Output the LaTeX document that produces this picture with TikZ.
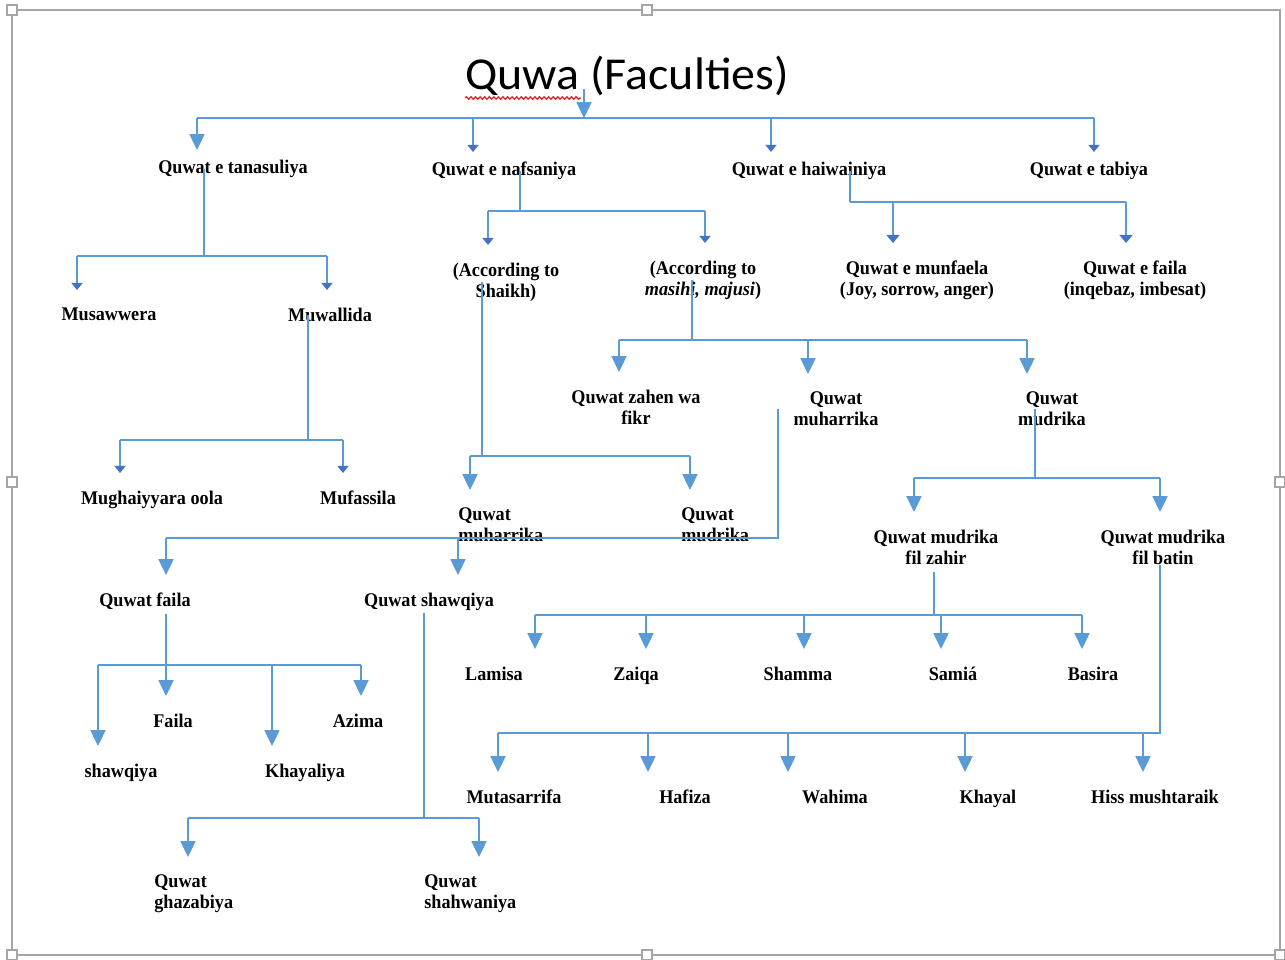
\documentclass[tikz,border=0pt]{standalone}
\usepackage{fontspec}
\setmainfont{Liberation Serif}[FakeStretch=0.94]
\newfontfamily\titlefont{Carlito}[FakeStretch=1.05]
\usepackage{tikz}
\usetikzlibrary{arrows.meta,decorations.pathmorphing}
\definecolor{linkblue}{RGB}{91,155,213}
\definecolor{tipblue}{RGB}{68,114,196}
\definecolor{framegray}{RGB}{165,165,165}
\definecolor{spellred}{RGB}{230,30,30}
\tikzset{
  lbl/.style     = {anchor=north, align=center, inner xsep=2pt, inner ysep=10pt,
                    font=\fontsize{11}{12}\selectfont\bfseries},
  toplbl/.style  = {lbl, inner ysep=5.5pt},
  lftlbl/.style  = {lbl, anchor=north west, align=left, inner xsep=0pt},
  titlelbl/.style= {anchor=base west, inner sep=0pt,
                    font=\titlefont\fontsize{26}{30}\selectfont},
  link/.style    = {draw=linkblue, line width=1.1pt},
  bar/.style     = {link, line width=1.3pt},
  arrL/.style    = {link, -{Triangle[length=9pt, width=8.5pt]}},
  arrM/.style    = {link, -{Triangle[length=4.6pt, width=7.4pt, color=tipblue]}},
  arrS/.style    = {link, -{Triangle[length=4pt, width=6.2pt, color=tipblue]}},
  canvas/.style  = {draw=framegray, line width=0.8pt},
  handle/.style  = {draw=framegray, fill=white, line width=0.6pt},
  squiggle/.style= {draw=spellred, line width=0.7pt, decorate,
                    decoration={snake, amplitude=0.7pt, segment length=2.6pt}},
}

\begin{document}
\begin{tikzpicture}[x=0.02cm, y=-0.02cm]
  \useasboundingbox (0,0) rectangle (1285,960);
  % canvas frame
  \draw[canvas] (12,10) rectangle (1280,955);
  \foreach \hx/\hy in {12/10,647/10,12/482,1280/482,12/955,647/955,1280/955}
    \draw[handle] (\hx,\hy) ++(-5,-5) rectangle ++(10,10);

  % title
  \node[titlelbl] (title) at (465,89) {Quwa (Faculties)};
  \draw[squiggle] (title.base west) ++(0,9) -- ++(116,0);

  % level 1
  \node[toplbl] (tan) at (233,150) {Quwat e tanasuliya};
  \node[toplbl] (naf) at (504,152) {Quwat e nafsaniya};
  \node[toplbl] (hai) at (809,152) {Quwat e haiwainiya};
  \node[toplbl] (tab) at (1089,152) {Quwat e tabiya};

  % level 2
  \node[lbl] (mus) at (109,290) {Musawwera};
  \node[lbl] (muw) at (330,290) {Muwallida};
  \node[lbl] (sha) at (506,245) {(According to\\Shaikh)};
  \node[lbl] (mas) at (703,243) {(According to\\\textit{masihi, majusi})};
  \node[lbl] (mun) at (917,243) {Quwat e munfaela\\(Joy, sorrow, anger)};
  \node[lbl] (fai) at (1135,243) {Quwat e faila\\(inqebaz, imbesat)};

  % level 3
  \node[lbl] (zah)  at (636,372) {Quwat zahen wa\\fikr};
  \node[lbl] (muhM) at (836,374) {Quwat\\muharrika};
  \node[lbl] (mudM) at (1052,374) {Quwat\\mudrika};
  \node[lbl] (mug)  at (152,473) {Mughaiyyara oola};
  \node[lbl] (muf)  at (358,473) {Mufassila};
  \node[lftlbl] (muhS) at (458,490) {Quwat\\muharrika};
  \node[lftlbl] (mudS) at (681,490) {Quwat\\mudrika};
  \node[lbl] (fzh)  at (936,512) {Quwat mudrika\\fil zahir};
  \node[lbl] (fbt)  at (1163,512) {Quwat mudrika\\fil batin};
  \node[lbl] (qfa)  at (145,575) {Quwat faila};
  \node[lbl] (qsh)  at (429,575) {Quwat shawqiya};

  % level 4
  \node[lbl] (lam)  at (494,649) {Lamisa};
  \node[lbl] (zai)  at (636,649) {Zaiqa};
  \node[lbl] (sham) at (798,649) {Shamma};
  \node[lbl] (sami) at (953,649) {Samiá};
  \node[lbl] (bas)  at (1093,649) {Basira};
  \node[lbl] (fla)  at (173,696) {Faila};
  \node[lbl] (azi)  at (358,696) {Azima};
  \node[lbl] (shq)  at (121,746) {shawqiya};
  \node[lbl] (khy)  at (305,746) {Khayaliya};
  \node[lbl] (mut)  at (514,772) {Mutasarrifa};
  \node[lbl] (haf)  at (685,772) {Hafiza};
  \node[lbl] (wah)  at (835,772) {Wahima};
  \node[lbl] (khl)  at (988,772) {Khayal};
  \node[lbl] (hiss) at (1155,772) {Hiss mushtaraik};
  \node[lftlbl] (gha) at (154,857) {Quwat\\ghazabiya};
  \node[lftlbl] (shh) at (424,857) {Quwat\\shahwaniya};

  % title -> level 1
  \coordinate (tJ) at (584,118);
  \draw[link, -{Triangle[length=9pt, width=8.5pt]}] (tJ |- title.base) -- (tJ);
  \coordinate (jtan) at (197,118);
  \draw[arrL] (jtan) -- (jtan |- tan.north);
  \foreach \x/\n in {473/naf,771/hai,1094/tab}{
    \coordinate (j\n) at (\x,118);
    \draw[arrS] (j\n) -- (j\n |- \n.north);
  }
  \draw[bar] (jtan) -- (jtab);

  % tanasuliya
  \coordinate (tanJ) at (204,256);
  \draw[link] (tanJ |- tan.center) -- (tanJ);
  \foreach \x/\n in {77/mus,327/muw}{
    \coordinate (j\n) at (\x,256);
    \draw[arrS] (j\n) -- (j\n |- \n.north);
  }
  \draw[bar] (jmus) -- (jmuw);

  % muwallida
  \coordinate (muwJ) at (308,440);
  \draw[link] (muwJ |- muw.center) -- (muwJ);
  \foreach \x/\n in {120/mug,343/muf}{
    \coordinate (j\n) at (\x,440);
    \draw[arrS] (j\n) -- (j\n |- \n.north);
  }
  \draw[bar] (jmug) -- (jmuf);

  % nafsaniya
  \coordinate (nafJ) at (520,211);
  \draw[link] (nafJ |- naf.center) -- (nafJ);
  \foreach \x/\n in {488/sha,705/mas}{
    \coordinate (j\n) at (\x,211);
    \draw[arrS] (j\n) -- (j\n |- \n.north);
  }
  \draw[bar] (jsha) -- (jmas);

  % haiwainiya
  \coordinate (haiJ) at (850,202);
  \draw[link] (haiJ |- hai.center) -- (haiJ);
  \foreach \x/\n in {893/mun,1126/fai}{
    \coordinate (j\n) at (\x,202);
    \draw[arrM] (j\n) -- (j\n |- \n.north);
  }
  \draw[bar] (haiJ) -- (jfai);

  % according to shaikh
  \coordinate (shaJ) at (482,456);
  \draw[link] (shaJ |- sha.center) -- (shaJ);
  \foreach \x/\n in {470/muhS,690/mudS}{
    \coordinate (j\n) at (\x,456);
    \draw[arrL] (j\n) -- (j\n |- \n.north);
  }
  \draw[bar] (jmuhS) -- (jmudS);

  % according to masihi
  \coordinate (masJ) at (692,340);
  \draw[link] (masJ |- mas.center) -- (masJ);
  \foreach \x/\n in {619/zah,808/muhM,1027/mudM}{
    \coordinate (j\n) at (\x,340);
    \draw[arrL] (j\n) -- (j\n |- \n.north);
  }
  \draw[bar] (jzah) -- (jmudM);

  % muharrika
  \coordinate (muhJ) at (778,538);
  \foreach \x/\n in {166/qfa,458/qsh}{
    \coordinate (j\n) at (\x,538);
    \draw[arrL] (j\n) -- (j\n |- \n.north);
  }
  \draw[bar] (muhJ |- muhM.center) -- (muhJ) -- (jqfa);

  % mudrika
  \coordinate (mudJ) at (1035,478);
  \draw[link] (mudJ |- mudM.center) -- (mudJ);
  \foreach \x/\n in {914/fzh,1160/fbt}{
    \coordinate (j\n) at (\x,478);
    \draw[arrL] (j\n) -- (j\n |- \n.north);
  }
  \draw[bar] (jfzh) -- (jfbt);

  % fil zahir
  \coordinate (fzhJ) at (934,615);
  \coordinate (fzhS) at ([yshift=6pt]fzh.south);
  \draw[link] (fzhJ |- fzhS) -- (fzhJ);
  \foreach \x/\n in {535/lam,646/zai,804/sham,941/sami,1082/bas}{
    \coordinate (j\n) at (\x,615);
    \draw[arrL] (j\n) -- (j\n |- \n.north);
  }
  \draw[bar] (jlam) -- (jbas);

  % fil batin
  \coordinate (fbtJ) at (1160,733);
  \coordinate (fbtS) at ([yshift=10pt]fbt.south);
  \foreach \x/\n in {498/mut,648/haf,788/wah,965/khl,1143/hiss}{
    \coordinate (j\n) at (\x,733);
    \draw[arrL] (j\n) -- (j\n |- \n.north);
  }
  \draw[bar] (fbtJ |- fbtS) -- (fbtJ) -- (jmut);

  % quwat faila
  \coordinate (qfaJ) at (166,665);
  \coordinate (qfaS) at ([yshift=-4pt]qfa.base);
  \draw[link] (qfaJ |- qfaS) -- (qfaJ);
  \foreach \x/\n in {98/shq,166/fla,272/khy,361/azi}{
    \coordinate (j\n) at (\x,665);
    \draw[arrL] (j\n) -- (j\n |- \n.north);
  }
  \draw[bar] (jshq) -- (jazi);

  % quwat shawqiya
  \coordinate (qshJ) at (424,818);
  \coordinate (qshS) at ([yshift=-4pt]qsh.base);
  \draw[link] (qshJ |- qshS) -- (qshJ);
  \foreach \x/\n in {188/gha,479/shh}{
    \coordinate (j\n) at (\x,818);
    \draw[arrL] (j\n) -- (j\n |- \n.north);
  }
  \draw[bar] (jgha) -- (jshh);
\end{tikzpicture}
\end{document}
